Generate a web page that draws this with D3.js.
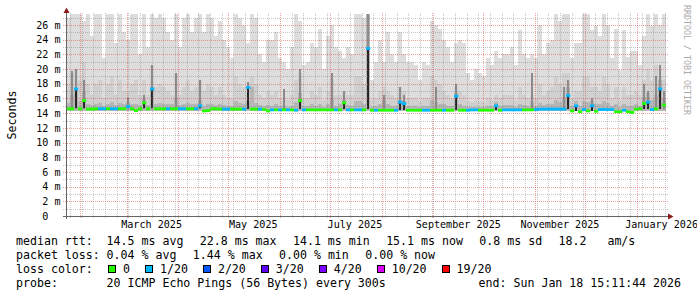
<!DOCTYPE html>
<html><head><meta charset="utf-8">
<script src="https://cdn.jsdelivr.net/npm/d3@7"></script>
<style>
body{margin:0;background:#fff}
svg{display:block}
text{font-family:"DejaVu Sans Mono",monospace;white-space:pre}
</style>
</head><body>
<svg id="chart" width="697" height="297"></svg>
<script>
// ---------------- DATA ----------------
const endTime = new Date("2026-01-18T15:11:44Z");
const spanDays = 360;
const yTicks = [0, 2, 4, 6, 8, 10, 12, 14, 16, 18, 20, 22, 24, 26];
const yMinorTicks = [1, 3, 5, 7, 9, 11, 13, 15, 17, 19, 21, 23, 25, 27];
const xTickLabels = ["January 2025", "March 2025", "May 2025", "July 2025", "September 2025", "November 2025", "January 2026"];
const yAxisTitle = "Seconds";
const rttFloor = 14.3; // ms, lowest ping of the smoke

// top of the lightest smoke (max ping), ms, 150 steps of 2.4 days
const rttMax = [27, 28, 28, 27.5, 26.5, 28, 24.5, 28, 28, 21.5, 28, 28, 23.5, 28, 25, 24, 28, 28, 22, 28, 23, 28, 27, 28, 27, 25, 24, 28, 23, 27, 28, 25, 27, 28, 25, 28, 27, 24.5,
  26.5, 24, 23, 21.5, 28, 27, 26, 23.5, 28, 27, 22, 21, 24, 24, 25, 21.5, 21, 20, 23, 28, 26.5, 20.5, 21, 23.5, 23, 25.5, 20, 24.5, 26, 23, 22.5, 21.5, 23, 22, 28, 28, 27,
  28, 18.5, 21, 24, 21, 25, 22, 21, 25, 22, 21, 21, 20.5, 18.5, 21, 20.5, 26.5, 26, 25.5, 24, 23, 21, 23.5, 24, 23.5, 19.5, 18.5, 20, 19.5, 19, 21.5, 20.5, 22.5, 21.5, 22, 22, 23, 20.5,
  25.3, 22, 21.5, 22, 21.5, 26, 22, 23.5, 24, 28, 26.5, 28, 28, 21.5, 23.5, 23.5, 28, 28, 25.3, 25.8, 24.5, 28, 26, 21.5, 25.5, 19.9, 25.3, 21.7, 22.5, 22.5, 20.5, 24.5, 28, 25.8, 28, 26, 28];
// second smoke layer
const rttMid = [18, 19.5, 20, 18.5, 21, 18, 16.5, 18, 18.5, 16, 18, 19, 16.5, 18.5, 17, 17, 18, 18.5, 16.5, 18.5, 16.5, 20.5, 17.5, 18, 17.5, 17, 16.5, 19.5, 16.5, 17.5, 18.5, 17, 17.5, 18.5, 17, 18, 17.5, 16.5,
  17.5, 16.5, 16, 16, 19, 18, 17.5, 17, 19, 18, 16.5, 16, 17, 16.5, 17, 16, 16, 15.8, 16.5, 18.5, 19.5, 16, 16, 17, 16.5, 17.5, 15.8, 17, 18.5, 16.5, 16.5, 17, 16.5, 16.5, 19, 19, 18,
  28, 15.8, 16, 17, 17.5, 17, 16.5, 16, 17.5, 17, 16, 16, 16, 15.6, 16, 16, 19, 18.5, 18, 17, 16.5, 16, 17.5, 17, 16.5, 15.6, 15.5, 15.8, 15.6, 15.5, 16, 15.8, 16.5, 16, 16.5, 16.5, 16.5, 15.8,
  17.5, 16.5, 16, 16.5, 16, 18, 16.5, 17, 17.5, 19, 18, 19.5, 19.5, 16, 17, 17, 19, 19, 17.5, 17.5, 17, 19, 18, 16, 17.5, 15.8, 17.5, 16.5, 16.5, 17, 16.5, 18.5, 20, 18.5, 20.5, 19, 18.5];
// third smoke layer
const rttLower = [15.4, 16.5, 17, 15.6, 17, 15.3, 15.1, 15.3, 15.4, 15, 15.3, 15.5, 15.1, 15.4, 15.2, 15.5, 15.3, 15.2, 15.1, 16, 15.1, 17.5, 15.3, 15.4, 15.3, 15.2, 15.2, 16, 15.1, 15.3, 15.4, 15.2, 15.3, 15.8, 15, 15.3, 15.3, 15.1,
  15.2, 15.1, 15, 15, 15.6, 15.4, 15.3, 15.6, 17.5, 15.4, 15.1, 15, 15.1, 15, 15.2, 15, 15, 14.9, 15, 15.5, 16.8, 15, 15, 15.2, 15, 15.3, 14.9, 15.2, 16, 15, 15.3, 15.8, 15.1, 15, 15.6, 15.6, 15.3,
  28, 14.9, 15, 15.2, 15.8, 15.2, 15, 15, 15.8, 15.6, 15, 15, 15, 14.8, 15, 15, 15.8, 15.5, 15.3, 15.2, 15, 15, 16.8, 15.2, 15, 14.8, 14.8, 14.9, 14.8, 14.8, 15, 15, 15.5, 15, 15.1, 15.1, 15.1, 14.9,
  15.3, 15.1, 15, 15.5, 15, 15.4, 15.1, 15.2, 15.3, 15.8, 15.5, 16.2, 17.5, 15, 15.6, 15, 15.6, 15.5, 15.6, 15.2, 15.2, 15.6, 15.4, 15, 15.3, 14.8, 15.2, 15, 15, 15.2, 15, 16.2, 16.8, 15.8, 16.5, 18.5, 16];
// dark smoke: [step, low ms, high ms, shade(1 dark grey, 2 near black)]
const darkSmoke = [
  [1, 14.6, 19.8, 1], [2, 14.6, 20, 1], [2, 14.7, 17.3, 2], [4, 14.6, 18.5, 1], [4, 14.7, 15.7, 2],
  [15, 14.6, 16.2, 1], [19, 14.6, 16.5, 1], [19, 14.7, 15.4, 2], [21, 14.6, 20.5, 1], [21, 14.7, 17.3, 2],
  [27, 14.6, 19.5, 1], [33, 14.6, 18.5, 1], [33, 14.7, 15.0, 2], [45, 14.6, 18.2, 1], [45, 14.6, 17.5, 2],
  [54, 14.5, 17.3, 1], [58, 14.5, 20, 1], [58, 14.5, 15.7, 2], [66, 14.5, 19.4, 1], [69, 14.5, 17, 1], [69, 14.5, 15.4, 2],
  [75, 14.5, 28, 1], [75, 14.5, 22.8, 2], [79, 14.4, 16.5, 1], [83, 14.4, 17.5, 1], [83, 14.4, 15.5, 2],
  [84, 14.4, 16.5, 1], [84, 14.4, 15.3, 2], [92, 14.4, 17.5, 1], [97, 14.4, 18, 1], [97, 14.4, 16.3, 2],
  [107, 14.4, 15.0, 2], [116, 14.45, 19.5, 1], [124, 14.5, 17.5, 1], [125, 14.5, 18.5, 1], [125, 14.5, 16.4, 2],
  [127, 14.3, 15.0, 2], [131, 14.3, 16, 1], [131, 14.3, 15.0, 2], [144, 14.5, 18, 1], [144, 14.5, 15.3, 2],
  [145, 14.5, 17, 1], [145, 14.5, 15.5, 2], [147, 14.5, 19, 1], [148, 14.5, 20.5, 1], [148, 14.5, 17.3, 2], [149, 14.5, 17, 1]
];
// median rtt, ms
const median = [14.6, 14.6, 17.3, 14.6, 15.7, 14.55, 14.55, 14.6, 14.6, 14.6, 14.6, 14.6, 14.6, 14.6, 14.6, 14.9, 14.6, 14.35, 14.6, 15.4, 14.6, 17.3, 14.6, 14.6, 14.6, 14.6, 14.6, 14.6, 14.6, 14.6, 14.6, 14.6, 14.6, 15.0, 14.3, 14.35, 14.6, 14.6,
  14.55, 14.55, 14.55, 14.55, 14.55, 14.55, 14.55, 17.5, 14.55, 14.55, 14.55, 14.5, 14.3, 14.45, 14.45, 14.45, 14.45, 14.45, 14.45, 14.4, 15.7, 14.45, 14.45, 14.45, 14.45, 14.45, 14.45, 14.45, 14.45, 14.45, 14.45, 15.4, 14.45, 14.45, 14.45, 14.45, 14.45,
  22.8, 14.4, 14.4, 14.4, 14.4, 14.4, 14.4, 14.4, 15.5, 15.3, 14.4, 14.4, 14.4, 14.4, 14.4, 14.4, 14.4, 14.4, 14.4, 14.4, 14.4, 14.4, 16.3, 14.4, 14.4, 14.4, 14.45, 14.45, 14.4, 14.4, 14.4, 14.4, 15.0, 14.4, 14.45, 14.45, 14.45, 14.45,
  14.45, 14.45, 14.45, 14.45, 14.5, 14.55, 14.55, 14.55, 14.55, 14.55, 14.55, 14.55, 16.4, 14.3, 15.0, 14.2, 14.5, 14.3, 15.0, 14.25, 14.5, 14.5, 14.5, 14.5, 14.2, 14.2, 14.4, 14.2, 14.1, 14.55, 14.6, 15.3, 15.5, 14.5, 14.6, 17.3, 15.1];
// lost pings out of 20
const loss = [0,0,1,0,0,0,0,0,1,1,0,1,1,0,0,1,0,0,0,0,0,1,0,0,0,1,0,0,1,1,0,0,1,1,0,0,0,0,
  0,1,1,0,0,0,1,1,0,0,1,0,0,1,0,1,0,1,0,1,0,1,0,0,0,0,0,0,0,1,0,0,1,0,1,1,0,
  1,0,1,0,0,0,0,1,1,1,0,0,0,0,1,1,0,0,0,1,0,0,1,0,0,1,1,1,0,0,0,0,1,0,1,1,1,1,
  1,0,0,0,1,1,1,1,1,1,1,1,1,0,1,0,1,0,1,0,1,1,1,1,0,0,1,0,0,0,0,0,1,1,0,1,0];

const lossLevels = [0, 1, 2, 3, 4, 10, 19];
const lossLabels = ["0", "1/20", "2/20", "3/20", "4/20", "10/20", "19/20"];
const lossColors = ["#26ff00", "#00b8ff", "#0059ff", "#5e00ff", "#7e00ff", "#dd00ff", "#ff0000"];

const medianLabel = "median rtt:";
const medianStats = ["14.5 ms avg", "22.8 ms max", "14.1 ms min", "15.1 ms now", "0.8 ms sd", "18.2   am/s"];
const lossLabel = "packet loss:";
const lossStats = ["0.04 % avg", "1.44 % max", "0.00 % min", "0.00 % now"];
const colorLabel = "loss color:";
const probeLabel = "probe:";
const probeText = "20 ICMP Echo Pings (56 Bytes) every 300s";
const endText = "end: Sun Jan 18 15:11:44 2026";
const watermark = "RRDTOOL / TOBI OETIKER";

// ---------------- LAYOUT ----------------
const svg = d3.select("#chart");
const plot = {left: 66, right: 666, top: 14, bottom: 216};
const yMax = 27.5;
const startTime = new Date(endTime.getTime() - spanDays * 864e5);
const x = d3.scaleUtc().domain([startTime, endTime]).range([plot.left, plot.right]);
const y = d3.scaleLinear().domain([0, yMax]).range([plot.bottom, plot.top]);
const nSteps = rttMax.length;
const stepMs = spanDays * 864e5 / nSteps;
const stepStart = i => new Date(startTime.getTime() + i * stepMs);
const colX = i => x(stepStart(i));
const colW = i => x(stepStart(i + 1)) - x(stepStart(i));

svg.append("defs").append("clipPath").attr("id", "clip")
  .append("rect").attr("x", plot.left).attr("y", plot.top)
  .attr("width", plot.right - plot.left).attr("height", plot.bottom - plot.top);

const dataG = svg.append("g").attr("clip-path", "url(#clip)").attr("shape-rendering", "crispEdges");

function smokeLayer(vals, fill) {
  dataG.append("g").selectAll("rect").data(vals).join("rect")
    .attr("x", (d, i) => colX(i)).attr("width", (d, i) => colW(i))
    .attr("y", d => y(Math.min(d, yMax + 1)))
    .attr("height", d => Math.max(0, y(rttFloor) - y(Math.min(d, yMax + 1))))
    .attr("fill", fill);
}
smokeLayer(rttMax, "#dddddd");
smokeLayer(rttMid, "#d0d0d0");
smokeLayer(rttLower, "#b6b6b6");

const shadeColor = {1: "#8c8c8c", 2: "#262626"};
const shadeFrac = {1: 0.7, 2: 0.5};
dataG.append("g").selectAll("rect").data(darkSmoke.slice().sort((a, b) => a[3] - b[3])).join("rect")
  .attr("x", d => colX(d[0]) + colW(d[0]) * (1 - shadeFrac[d[3]]) / 2)
  .attr("width", d => colW(d[0]) * shadeFrac[d[3]])
  .attr("y", d => y(Math.min(d[2], yMax + 1)))
  .attr("height", d => y(d[1]) - y(Math.min(d[2], yMax + 1)))
  .attr("fill", d => shadeColor[d[3]]);

// ---------------- GRID ----------------
const gridG = svg.append("g").attr("shape-rendering", "crispEdges").attr("stroke-dasharray", "1,1");
const minorGrid = "rgba(130,130,130,0.45)";
const majorGrid = "rgba(220,70,70,0.5)";
gridG.selectAll("line.hmin").data(yMinorTicks.filter(v => v < yMax)).join("line")
  .attr("x1", plot.left - 3).attr("x2", plot.right + 3)
  .attr("y1", d => Math.round(y(d)) + 0.5).attr("y2", d => Math.round(y(d)) + 0.5)
  .attr("stroke", minorGrid);
const weeks = d3.utcSunday.range(startTime, endTime).filter(d => d.getUTCDate() !== 1);
gridG.selectAll("line.vmin").data(weeks).join("line")
  .attr("y1", plot.top - 1).attr("y2", plot.bottom + 3)
  .attr("x1", d => Math.round(x(d)) + 0.5).attr("x2", d => Math.round(x(d)) + 0.5)
  .attr("stroke", minorGrid);
gridG.selectAll("line.hmaj").data(yTicks.filter(v => v > 0)).join("line")
  .attr("x1", plot.left - 3).attr("x2", plot.right + 3)
  .attr("y1", d => Math.round(y(d)) + 0.5).attr("y2", d => Math.round(y(d)) + 0.5)
  .attr("stroke", majorGrid);
const months = d3.utcMonth.range(startTime, endTime);
gridG.selectAll("line.vmaj").data(months).join("line")
  .attr("y1", plot.top - 1).attr("y2", plot.bottom + 3)
  .attr("x1", d => Math.round(x(d)) + 0.5).attr("x2", d => Math.round(x(d)) + 0.5)
  .attr("stroke", majorGrid);

// ---------------- MEDIAN ----------------
const lossIndex = v => { let k = 0; lossLevels.forEach((l, j) => { if (v >= l) k = j; }); return k; };
svg.append("g").attr("clip-path", "url(#clip)").selectAll("rect").data(median).join("rect")
  .attr("x", (d, i) => colX(i)).attr("width", (d, i) => colW(i) + 0.3)
  .attr("y", d => y(d) - 1.4).attr("height", 2.8)
  .attr("fill", (d, i) => lossColors[lossIndex(loss[i])]);

// ---------------- AXES ----------------
const axisG = svg.append("g");
axisG.append("line").attr("x1", plot.left + 0.5).attr("x2", plot.left + 0.5)
  .attr("y1", plot.bottom + 3).attr("y2", 10).attr("stroke", "#666").attr("shape-rendering", "crispEdges");
axisG.append("line").attr("x1", plot.left - 3).attr("x2", plot.right + 3)
  .attr("y1", plot.bottom + 0.5).attr("y2", plot.bottom + 0.5).attr("stroke", "#666").attr("shape-rendering", "crispEdges");
axisG.append("path").attr("d", `M${plot.left - 2.5},13 L${plot.left + 3.5},13 L${plot.left + 0.5},7.5 Z`).attr("fill", "#8b1a1a");
axisG.append("path").attr("d", `M${plot.right + 2},${plot.bottom - 2.5} L${plot.right + 2},${plot.bottom + 3.5} L${plot.right + 7.5},${plot.bottom + 0.5} Z`).attr("fill", "#8b1a1a");

const axisFont = "10.1px";
axisG.selectAll("text.yl").data(yTicks).join("text")
  .attr("x", 60.5).attr("y", d => y(d) + 3.7).attr("text-anchor", "end")
  .attr("font-size", axisFont).attr("fill", "#000")
  .text(d => d === 0 ? "0  " : d + " m");

const parseMonth = d3.utcParse("%B %Y");
axisG.selectAll("text.xl").data(xTickLabels.map(s => ({s, t: d3.utcDay.offset(parseMonth(s), 15)}))
    .filter(d => x(d.t) > plot.left && x(d.t) < plot.right + 5)).join("text")
  .attr("x", d => x(d.t)).attr("y", 227.5).attr("text-anchor", "middle")
  .attr("font-size", axisFont).attr("fill", "#000").text(d => d.s);

svg.append("text").attr("transform", "translate(15.5,115) rotate(-90)")
  .attr("text-anchor", "middle").attr("font-size", "11.6px").attr("fill", "#000").text(yAxisTitle);

svg.append("text").attr("transform", "translate(684,5) rotate(90)")
  .attr("font-size", "8.3px").attr("fill", "#aaaaaa").text(watermark);

// ---------------- LEGEND ----------------
const legFont = "11.6px";
const tabX = 106.6, gap = 16.4;
const legG = svg.append("g").attr("font-size", legFont).attr("fill", "#000");
function row(label, items, yb) {
  legG.append("text").attr("x", 16).attr("y", yb).text(label);
  let cx = tabX;
  items.forEach(s => {
    const t = legG.append("text").attr("x", cx).attr("y", yb).text(s);
    cx += t.node().getComputedTextLength() + gap;
  });
}
row(medianLabel, medianStats, 245);
row(lossLabel, lossStats, 259);
legG.append("text").attr("x", 16).attr("y", 273).text(colorLabel);
let bx = 108;
lossLabels.forEach((lab, j) => {
  legG.append("rect").attr("x", bx + 0.5).attr("y", 265.5).attr("width", 7).attr("height", 7)
    .attr("fill", lossColors[j]).attr("stroke", "#000").attr("shape-rendering", "crispEdges");
  const t = legG.append("text").attr("x", bx + 15).attr("y", 273).text(lab);
  bx = bx + 15 + t.node().getComputedTextLength() + 15;
});
legG.append("text").attr("x", 16).attr("y", 287).text(probeLabel);
legG.append("text").attr("x", tabX).attr("y", 287).text(probeText);
legG.append("text").attr("x", 681).attr("y", 287).attr("text-anchor", "end").text(endText);
</script>
</body></html>
